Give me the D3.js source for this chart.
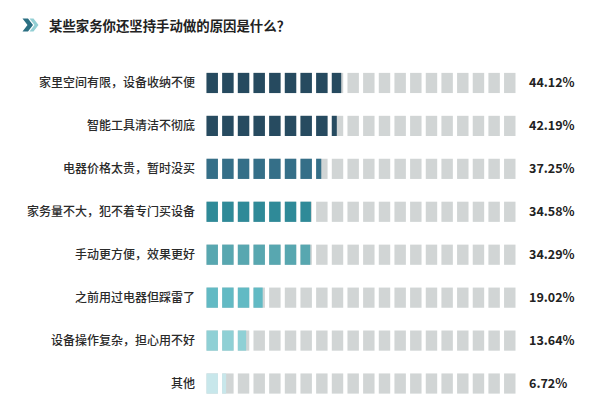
<!DOCTYPE html>
<html>

<head>
  <meta charset="utf-8">
  <title>家务原因</title>
  <script src="https://cdn.jsdelivr.net/npm/d3@7"></script>
  <style type="text/css">
    body {
      margin: 0;
      background: #fff;
    }

    text {
      font-family: "Noto Sans CJK SC", "Liberation Sans", sans-serif;
    }
  </style>
</head>

<body>
  <div id="chartArea"></div>
  <script type="text/javascript">
    let title = '某些家务你还坚持手动做的原因是什么？';

    let categories = [
      '家里空间有限，设备收纳不便',
      '智能工具清洁不彻底',
      '电器价格太贵，暂时没买',
      '家务量不大，犯不着专门买设备',
      '手动更方便，效果更好',
      '之前用过电器但踩雷了',
      '设备操作复杂，担心用不好',
      '其他'
    ];

    let values = [44.12, 42.19, 37.25, 34.58, 34.29, 19.02, 13.64, 6.72];

    let rowColors = ['#264a5f', '#274b60', '#356f88', '#2f8a98', '#58a7b0', '#62bac4', '#8fd0d5', '#c8e7eb'];

    let W = 600, H = 417;
    let blockCount = 20;
    let blockStep = 100 / blockCount;

    let svg = d3.select('#chartArea').append('svg')
      .attr('width', W)
      .attr('height', H);

    // title with double chevron
    let head = svg.append('g');
    head.append('path')
      .attr('d', 'M22.5,18.5 L28,18.5 L33,25 L28,31.5 L22.5,31.5 L27.5,25 Z')
      .attr('fill', '#2b6f82');
    head.append('path')
      .attr('d', 'M29.5,18.5 L33.5,18.5 L38.5,25 L33.5,31.5 L29.5,31.5 L34.5,25 Z')
      .attr('fill', '#93cfd4');
    head.append('text')
      .attr('x', 49)
      .attr('y', 31)
      .attr('font-size', 13.4)
      .attr('font-weight', 'bold')
      .attr('fill', '#222')
      .text(title);

    let yScale = d3.scaleBand()
      .domain(categories)
      .range([61.5, 405])
      .paddingInner(0.53)
      .paddingOuter(0.265);

    let xScale = d3.scaleBand()
      .domain(d3.range(blockCount))
      .range([206.5, 515.5])
      .paddingInner(0.27);

    let bw = xScale.bandwidth();

    let rows = svg.selectAll('g.row')
      .data(categories)
      .enter()
      .append('g')
      .attr('class', 'row')
      .attr('transform', d => `translate(0, ${yScale(d)})`);

    rows.append('text')
      .attr('x', 195)
      .attr('y', yScale.bandwidth() / 2)
      .attr('dy', '0.36em')
      .attr('text-anchor', 'end')
      .attr('font-size', 12)
      .attr('font-weight', 500)
      .attr('fill', '#2a2a2a')
      .text(d => d);

    rows.each(function (d, r) {
      let g = d3.select(this);
      let v = values[r];
      let blocks = g.selectAll('g.block')
        .data(d3.range(blockCount))
        .enter()
        .append('g')
        .attr('class', 'block');

      blocks.append('rect')
        .attr('x', i => xScale(i))
        .attr('y', 0)
        .attr('width', bw)
        .attr('height', yScale.bandwidth())
        .attr('fill', '#d1d5d5');

      blocks.append('rect')
        .attr('x', i => xScale(i))
        .attr('y', 0)
        .attr('width', i => bw * Math.max(0, Math.min(1, v / blockStep - i)))
        .attr('height', yScale.bandwidth())
        .attr('fill', rowColors[r]);

      g.append('text')
        .attr('x', 529)
        .attr('y', yScale.bandwidth() / 2)
        .attr('dy', '0.36em')
        .attr('font-family', '"Liberation Sans", Arial, sans-serif')
        .attr('font-size', 12.5)
        .attr('font-weight', 'bold')
        .attr('fill', '#222')
        .text(v.toFixed(2) + '%');
    });
  </script>
</body>

</html>
